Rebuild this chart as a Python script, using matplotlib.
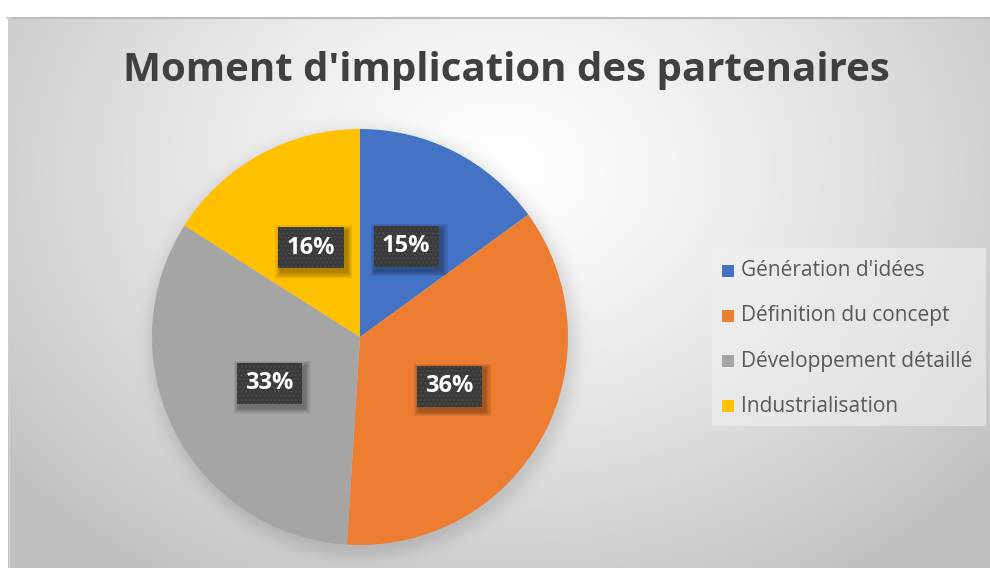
import numpy as np
import matplotlib
matplotlib.use("Agg")
import matplotlib.pyplot as plt
from matplotlib.patches import Rectangle

# Data
categories = ["Génération d'idées", "Définition du concept", "Développement détaillé", "Industrialisation"]
shares = [15, 36, 33, 16]
colors = ["#4472C4", "#ED7D31", "#A5A5A5", "#FFC000"]
title = "Moment d'implication des partenaires"

W, H = 990, 568
fig = plt.figure(figsize=(W / 100, H / 100), dpi=100)
fig.patch.set_facecolor("white")
ax = fig.add_axes([0, 0, 1, 1])


def Y(y):
    """Convert a top-down pixel row to the upward axis coordinate."""
    return H - y


# Chart area with radial gradient background and soft pie shadow
x0, y0 = 8, 17
cx, cy, R = 360, 337, 208
yy, xx = np.mgrid[y0:H, x0:W] + 0.5
d = np.sqrt(((xx - 500) / 620) ** 2 + ((yy - 170) / 480) ** 2)
val = 1.0 - 0.24 * np.clip(d, 0, 1) ** 1.3
ds = np.sqrt((xx - cx - 3) ** 2 + (yy - cy - 5) ** 2)
shadow = np.where(ds > R - 5, np.exp(-((ds - R + 5) / 14.0) ** 2), 1.0)
val = val - 0.10 * shadow
img = np.dstack([val, val, val])
ax.imshow(img, extent=(x0, W, Y(H), Y(y0)), origin="upper", zorder=0,
          interpolation="bilinear")
ax.plot([x0, W], [Y(y0 + 0.5)] * 2, color="#bdbdbd", lw=1.5, zorder=1)
ax.plot([x0 + 0.5] * 2, [Y(y0), Y(H)], color="#d0d0d0", lw=1, zorder=1)

# Pie
wedges, texts, autotexts = ax.pie(
    shares, colors=colors, startangle=90, counterclock=False,
    center=(cx, Y(cy)), radius=R, autopct="%1.0f%%", pctdistance=0.49,
    frame=True, wedgeprops=dict(linewidth=0),
    textprops=dict(color="white", fontsize=17, fontweight="bold", family="Open Sans"),
)
ax.set_xlim(0, W)
ax.set_ylim(0, H)
ax.set_aspect("equal")
ax.axis("off")

for t in autotexts:
    t.set_zorder(6)
    t.set_bbox(dict(boxstyle="square,pad=0.36", facecolor="#3a3a3a",
                    edgecolor="#4b4b4b", linewidth=0, hatch="...."))

# Soft drop shadows behind the data-label boxes
fig.canvas.draw()
to_data = ax.transData.inverted()
for t in autotexts:
    ext = t.get_bbox_patch().get_window_extent()
    (bx0, by0), (bx1, by1) = to_data.transform([[ext.x0, ext.y0], [ext.x1, ext.y1]])
    for k in range(5):
        grow = 1.0 + k * 1.2
        ax.add_patch(Rectangle((bx0 + 3 - grow, by0 - 4 - grow),
                               (bx1 - bx0) + 2 * grow, (by1 - by0) + 2 * grow,
                               facecolor="black", edgecolor="none",
                               alpha=0.07, zorder=5))

# Title
ax.text(506, Y(70), title, ha="center", va="center", fontsize=29,
        fontweight="bold", color="#404040", family="Open Sans", zorder=6)

# Legend
ax.add_patch(Rectangle((712, Y(426)), 274, 178, facecolor="#f2f2f2",
                       edgecolor="none", alpha=0.55, zorder=3))
for i, (lab, col) in enumerate(zip(categories, colors)):
    yl = 271 + i * 45
    ax.add_patch(Rectangle((722, Y(yl + 6)), 12, 12, facecolor=col,
                           edgecolor="none", zorder=4))
    ax.text(741, Y(yl), lab, ha="left", va="center", fontsize=15,
            color="#595959", family="Open Sans", zorder=4)

fig.savefig("out.png", dpi=100, facecolor=fig.get_facecolor())
